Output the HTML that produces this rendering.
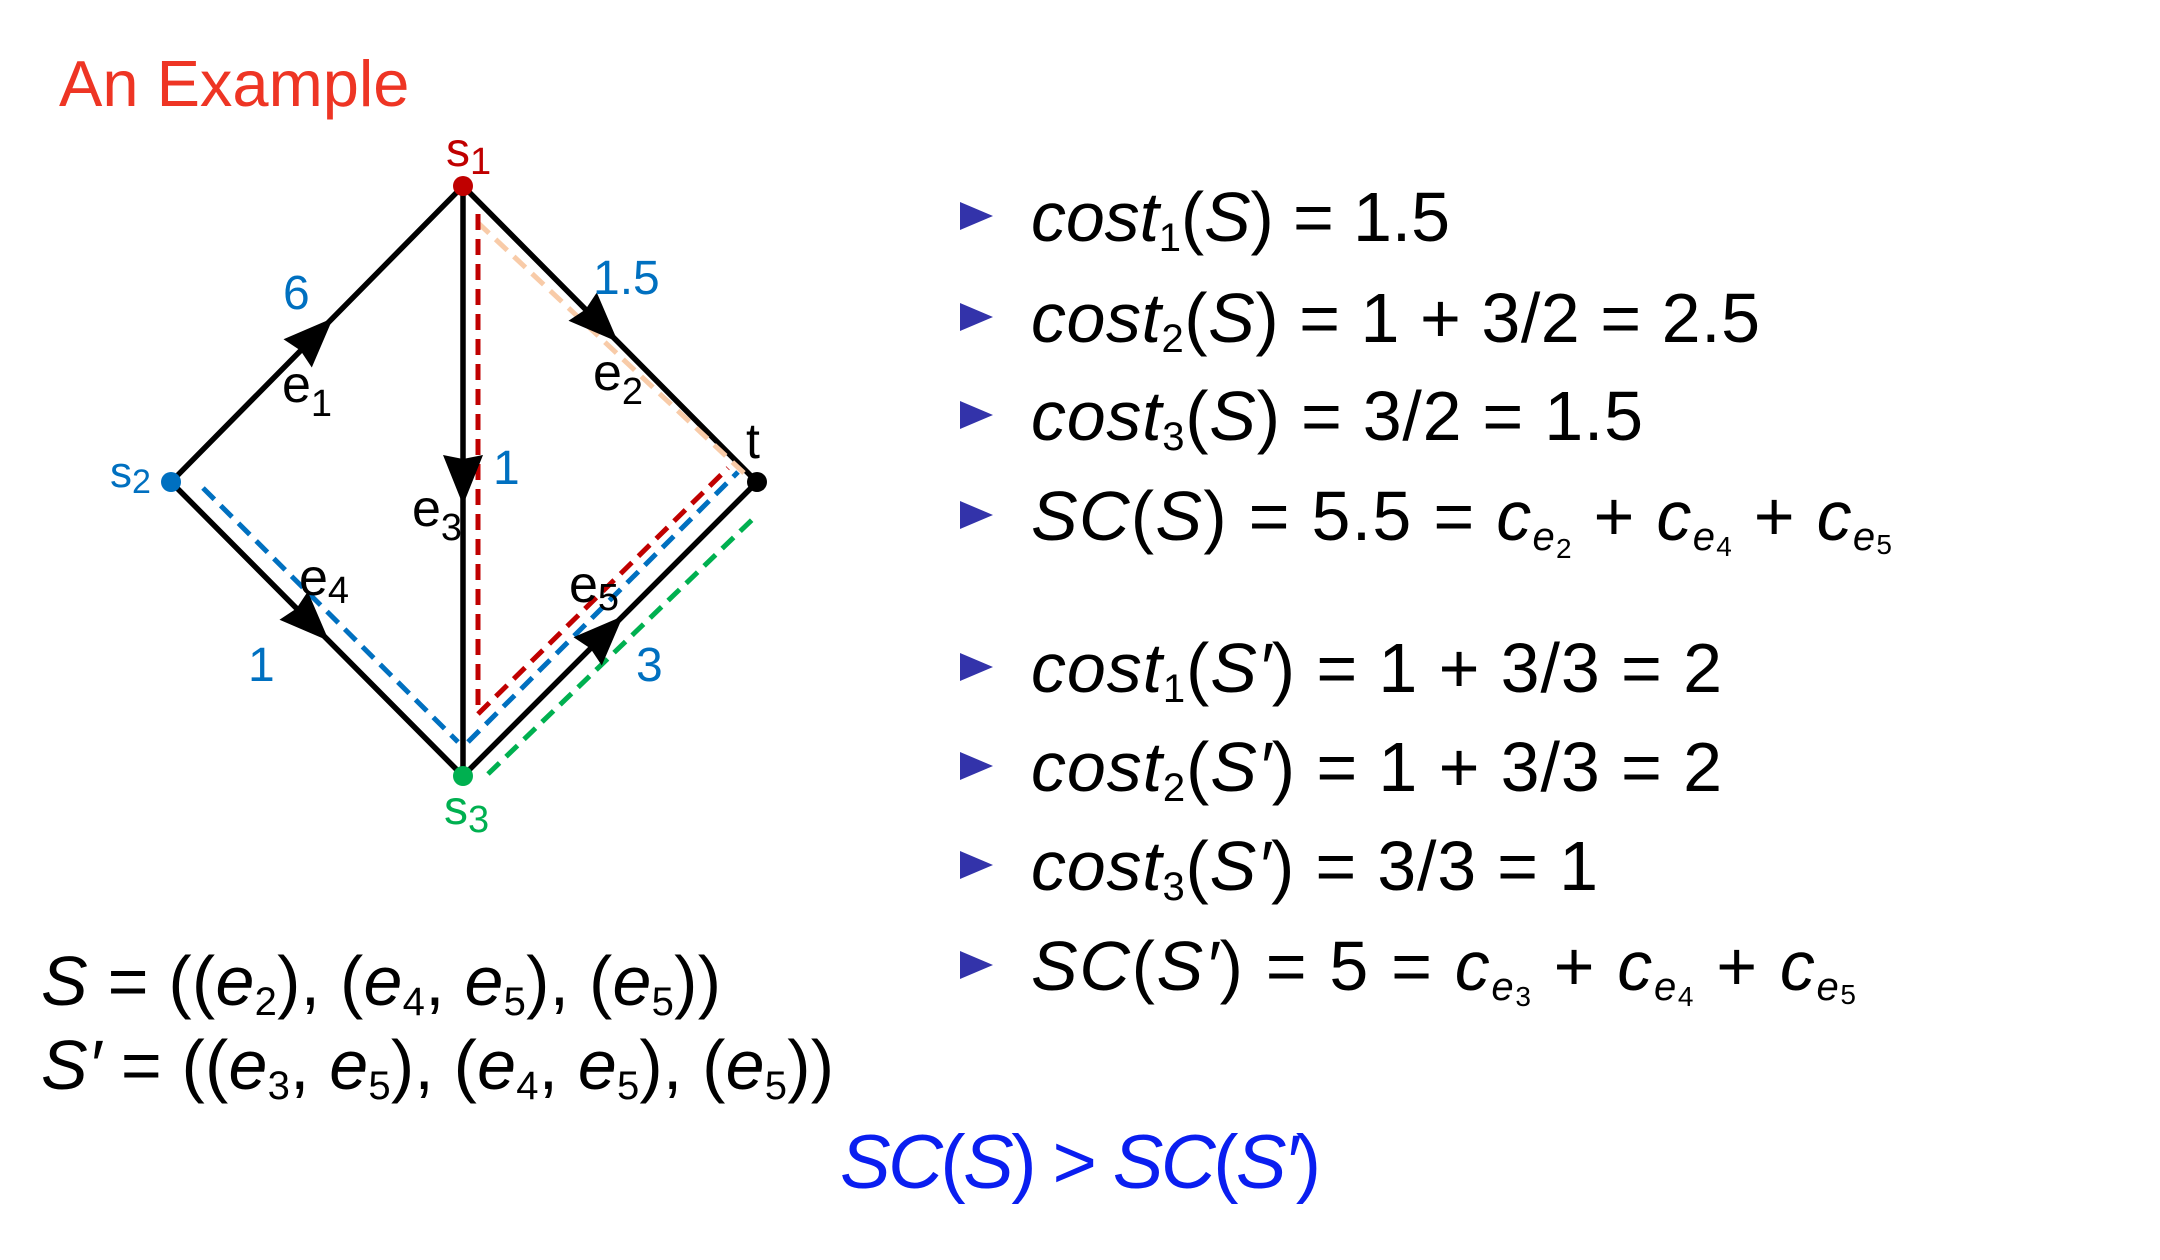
<!DOCTYPE html>
<html><head><meta charset="utf-8"><style>
html,body{margin:0;padding:0;background:#fff;}
svg{display:block;}
text{font-family:"Liberation Sans",Arial,sans-serif;}
.m{font-size:70px;fill:#000;}
.i{font-style:italic;}
</style></head><body>
<svg width="2160" height="1260" viewBox="0 0 2160 1260" xmlns="http://www.w3.org/2000/svg">
<rect width="2160" height="1260" fill="#fff"/>
<text x="59" y="106" font-size="65" fill="#ee3524">An Example</text>

<g stroke="#000" stroke-width="5.5" fill="none" stroke-linecap="round">
<line x1="171" y1="482" x2="463" y2="186"/>
<line x1="463" y1="186" x2="757" y2="482"/>
<line x1="463" y1="186" x2="463" y2="776"/>
<line x1="171" y1="482" x2="463" y2="776"/>
<line x1="463" y1="776" x2="757" y2="482"/>
</g>
<g fill="none" stroke-width="5" stroke-dasharray="16,9">
<polyline points="744,473 475,220" stroke="#f8cba8"/>
<polyline points="478,214 478,714 728,468" stroke="#c00000"/>
<polyline points="203,488 458,742" stroke="#0070c0"/>
<polyline points="468,742 738,472" stroke="#0070c0"/>
<polyline points="488,774 757,515" stroke="#00b050"/>
</g>
<g fill="#000">
<path d="M0,0 L-50,-20 L-46,0 L-50,20 Z" transform="translate(333,318) rotate(-45)"/>
<path d="M0,0 L-50,-20 L-46,0 L-50,20 Z" transform="translate(618,342) rotate(45)"/>
<path d="M0,0 L-50,-20 L-46,0 L-50,20 Z" transform="translate(463,505) rotate(90)"/>
<path d="M0,0 L-50,-20 L-46,0 L-50,20 Z" transform="translate(329,641) rotate(45)"/>
<path d="M0,0 L-50,-20 L-46,0 L-50,20 Z" transform="translate(623,616) rotate(-45)"/>
</g>
<circle cx="463" cy="186" r="10" fill="#c00000"/>
<circle cx="171" cy="482" r="10" fill="#0070c0"/>
<circle cx="757" cy="482" r="10" fill="#000"/>
<circle cx="463" cy="776" r="10" fill="#00b050"/>

<text x="446" y="166" font-size="48" fill="#c00000">s<tspan font-size="38" dy="8">1</tspan></text>
<text x="110" y="487" font-size="44" fill="#0070c0">s<tspan font-size="34" dy="6">2</tspan></text>
<text x="444" y="824" font-size="48" fill="#00b050">s<tspan font-size="38" dy="8">3</tspan></text>
<text x="746" y="458" font-size="50" fill="#000">t</text>

<g font-size="48" fill="#0070c0">
<text x="283" y="309">6</text>
<text x="593" y="294">1.5</text>
<text x="493" y="484">1</text>
<text x="248" y="681">1</text>
<text x="636" y="681">3</text>
</g>
<g font-size="52" fill="#000">
<text x="282" y="402">e<tspan font-size="38" dy="14">1</tspan></text>
<text x="593" y="390">e<tspan font-size="38" dy="14">2</tspan></text>
<text x="412" y="526">e<tspan font-size="38" dy="14">3</tspan></text>
<text x="299" y="595">e<tspan font-size="38" dy="8">4</tspan></text>
<text x="569" y="602">e<tspan font-size="38" dy="8">5</tspan></text>
</g>

<g fill="#3333aa">
<polygon points="960,202 993,216 960,230"/>
<polygon points="960,303 993,317 960,331"/>
<polygon points="960,401 993,415 960,429"/>
<polygon points="960,501 993,515 960,529"/>
<polygon points="960,653 993,667 960,681"/>
<polygon points="960,752 993,766 960,780"/>
<polygon points="960,851 993,865 960,879"/>
<polygon points="960,951 993,965 960,979"/>
</g>

<g class="m">
<text x="1031" y="241" textLength="419" lengthAdjust="spacing"><tspan class="i">cost</tspan><tspan font-size="40" dy="10">1</tspan><tspan dy="-10">(</tspan><tspan class="i">S</tspan>) = 1.5</text>
<text x="1031" y="342" textLength="729" lengthAdjust="spacing"><tspan class="i">cost</tspan><tspan font-size="40" dy="10">2</tspan><tspan dy="-10">(</tspan><tspan class="i">S</tspan>) = 1 + 3/2 = 2.5</text>
<text x="1031" y="440" textLength="612" lengthAdjust="spacing"><tspan class="i">cost</tspan><tspan font-size="40" dy="10">3</tspan><tspan dy="-10">(</tspan><tspan class="i">S</tspan>) = 3/2 = 1.5</text>
<text x="1031" y="540" textLength="861" lengthAdjust="spacing"><tspan class="i">SC</tspan>(<tspan class="i">S</tspan>) = 5.5 = <tspan class="i">c</tspan><tspan class="i" font-size="40" dy="10">e</tspan><tspan font-size="28" dy="8">2</tspan><tspan dy="-18"> + </tspan><tspan class="i">c</tspan><tspan class="i" font-size="40" dy="10">e</tspan><tspan font-size="28" dy="6">4</tspan><tspan dy="-16"> + </tspan><tspan class="i">c</tspan><tspan class="i" font-size="40" dy="10">e</tspan><tspan font-size="28" dy="4">5</tspan></text>

<text x="1031" y="692" textLength="691" lengthAdjust="spacing"><tspan class="i">cost</tspan><tspan font-size="40" dy="10">1</tspan><tspan dy="-10">(</tspan><tspan class="i">S′</tspan>) = 1 + 3/3 = 2</text>
<text x="1031" y="791" textLength="691" lengthAdjust="spacing"><tspan class="i">cost</tspan><tspan font-size="40" dy="10">2</tspan><tspan dy="-10">(</tspan><tspan class="i">S′</tspan>) = 1 + 3/3 = 2</text>
<text x="1031" y="890" textLength="567" lengthAdjust="spacing"><tspan class="i">cost</tspan><tspan font-size="40" dy="10">3</tspan><tspan dy="-10">(</tspan><tspan class="i">S′</tspan>) = 3/3 = 1</text>
<text x="1031" y="990" textLength="825" lengthAdjust="spacing"><tspan class="i">SC</tspan>(<tspan class="i">S′</tspan>) = 5 = <tspan class="i">c</tspan><tspan class="i" font-size="40" dy="10">e</tspan><tspan font-size="28" dy="6">3</tspan><tspan dy="-16"> + </tspan><tspan class="i">c</tspan><tspan class="i" font-size="40" dy="10">e</tspan><tspan font-size="28" dy="6">4</tspan><tspan dy="-16"> + </tspan><tspan class="i">c</tspan><tspan class="i" font-size="40" dy="10">e</tspan><tspan font-size="28" dy="4">5</tspan></text>

<text x="41" y="1005" textLength="680" lengthAdjust="spacing"><tspan class="i">S</tspan> = ((<tspan class="i">e</tspan><tspan font-size="40" dy="10">2</tspan><tspan dy="-10">), (</tspan><tspan class="i">e</tspan><tspan font-size="40" dy="10">4</tspan><tspan dy="-10">, </tspan><tspan class="i">e</tspan><tspan font-size="40" dy="10">5</tspan><tspan dy="-10">), (</tspan><tspan class="i">e</tspan><tspan font-size="40" dy="10">5</tspan><tspan dy="-10">))</tspan></text>
<text x="41" y="1089" textLength="793" lengthAdjust="spacing"><tspan class="i">S′</tspan> = ((<tspan class="i">e</tspan><tspan font-size="40" dy="10">3</tspan><tspan dy="-10">, </tspan><tspan class="i">e</tspan><tspan font-size="40" dy="10">5</tspan><tspan dy="-10">), (</tspan><tspan class="i">e</tspan><tspan font-size="40" dy="10">4</tspan><tspan dy="-10">, </tspan><tspan class="i">e</tspan><tspan font-size="40" dy="10">5</tspan><tspan dy="-10">), (</tspan><tspan class="i">e</tspan><tspan font-size="40" dy="10">5</tspan><tspan dy="-10">))</tspan></text>
</g>

<text x="840" y="1188" font-size="76" fill="#0a1ef0" textLength="481" lengthAdjust="spacing"><tspan class="i">SC</tspan>(<tspan class="i">S</tspan>) &gt; <tspan class="i">SC</tspan>(<tspan class="i">S′</tspan>)</text>
</svg>
</body></html>
